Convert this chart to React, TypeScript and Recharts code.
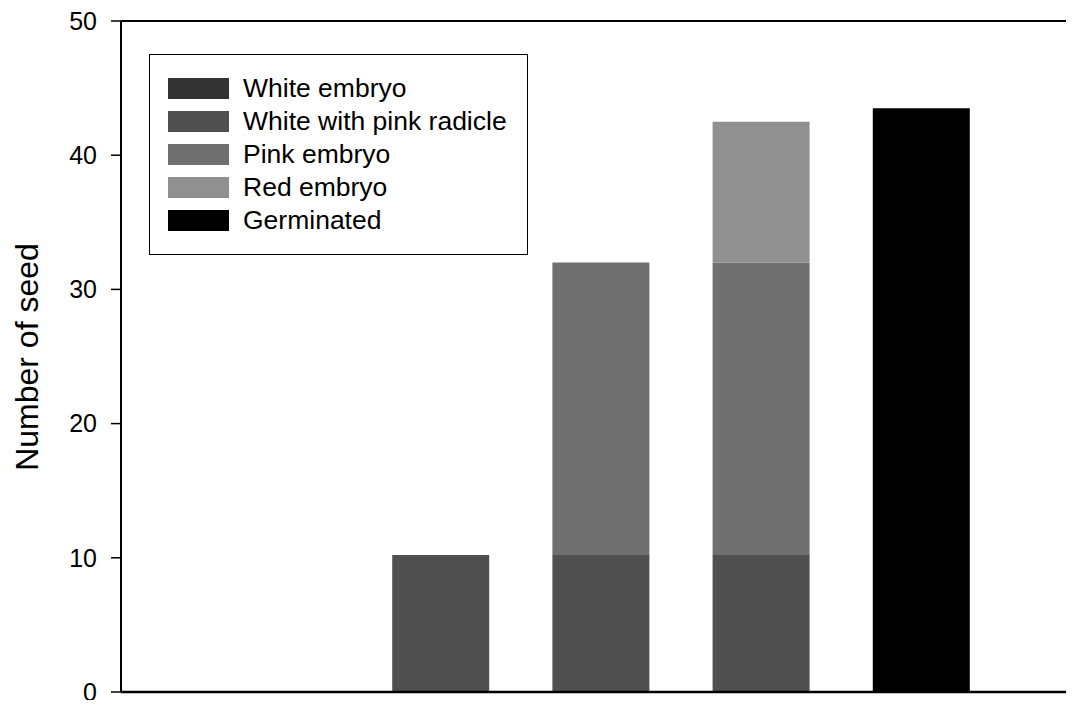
import React from 'react';
import {
  BarChart,
  Bar,
  XAxis,
  YAxis,
  Legend,
  ReferenceLine,
} from 'recharts';

// stages along the x axis (no tick labels in the original)
const stages = ['S1', 'S2', 'S3', 'S4', 'S5'];

const whiteEmbryo = [0, 0, 0, 0, 0];
const whitePinkRadicle = [0, 10.2, 10.2, 10.2, 0];
const pinkEmbryo = [0, 0, 21.8, 21.8, 0];
const redEmbryo = [0, 0, 0, 10.5, 0];
const germinated = [0, 0, 0, 0, 43.5];

const yTicks = [0, 10, 20, 30, 40, 50];

const seriesKeys = ['white', 'radicle', 'pink', 'red', 'germ'];
const seriesNames = ['White embryo', 'White with pink radicle', 'Pink embryo', 'Red embryo', 'Germinated'];
const seriesColors = ['#333333', '#505050', '#707070', '#909090', '#000000'];

const FONT = '"Liberation Sans", Arial, Helvetica, sans-serif';

const data = stages.map((s, i) => ({
  stage: s,
  white: whiteEmbryo[i],
  radicle: whitePinkRadicle[i],
  pink: pinkEmbryo[i],
  red: redEmbryo[i],
  germ: germinated[i],
}));

// legend kept in series order (recharts sorts the payload by name otherwise)
const LegendBox = () => {
  return (
    <div
      style={{
        width: 379,
        height: 201,
        boxSizing: 'border-box',
        border: '1.5px solid #000',
        background: '#fff',
        paddingTop: 17,
        paddingLeft: 18,
        fontFamily: FONT,
        fontSize: 26.5,
        color: '#000',
      }}
    >
      {seriesNames.map((name, i) => (
        <div key={name} style={{ display: 'flex', alignItems: 'center', height: 33, lineHeight: '33px' }}>
          <div style={{ width: 61, height: 21, background: seriesColors[i], marginRight: 14 }} />
          <span>{name}</span>
        </div>
      ))}
    </div>
  );
};

const YLabel = () => (
  <text
    x={38}
    y={357}
    transform="rotate(-90 38 357)"
    textAnchor="middle"
    fontSize={32}
    fontFamily={FONT}
    fill="#000"
  >
    Number of seed
  </text>
);

export default function App() {
  return (
    <div style={{ margin: -8, width: 1074, height: 708, background: '#fff', fontFamily: FONT }}>
      <BarChart
        width={1074}
        height={708}
        data={data}
        margin={{ top: 21, right: 0, left: 0, bottom: 15 }}
        barCategoryGap={0}
      >
        <XAxis
          dataKey="stage"
          tick={false}
          tickLine={false}
          height={1}
          axisLine={{ stroke: '#000', strokeWidth: 2.5 }}
          padding={{ left: 79, right: 73 }}
        />
        <YAxis
          width={121}
          domain={[0, 50]}
          ticks={yTicks}
          interval={0}
          tickSize={10}
          tickMargin={14}
          axisLine={{ stroke: '#000', strokeWidth: 2 }}
          tickLine={{ stroke: '#000', strokeWidth: 1.5 }}
          tick={{ fill: '#000', fontSize: 25, fontFamily: FONT }}
          label={<YLabel />}
        />
        <ReferenceLine y={50} stroke="#000" strokeWidth={2} />
        <Legend
          layout="vertical"
          align="center"
          verticalAlign="middle"
          content={<LegendBox />}
          wrapperStyle={{ position: 'absolute', left: 149, top: 54, width: 379, height: 201 }}
        />
        {seriesKeys.map((k, i) => (
          <Bar
            key={k}
            dataKey={k}
            name={seriesNames[i]}
            stackId="a"
            fill={seriesColors[i]}
            barSize={97}
            isAnimationActive={false}
          />
        ))}
      </BarChart>
    </div>
  );
}
